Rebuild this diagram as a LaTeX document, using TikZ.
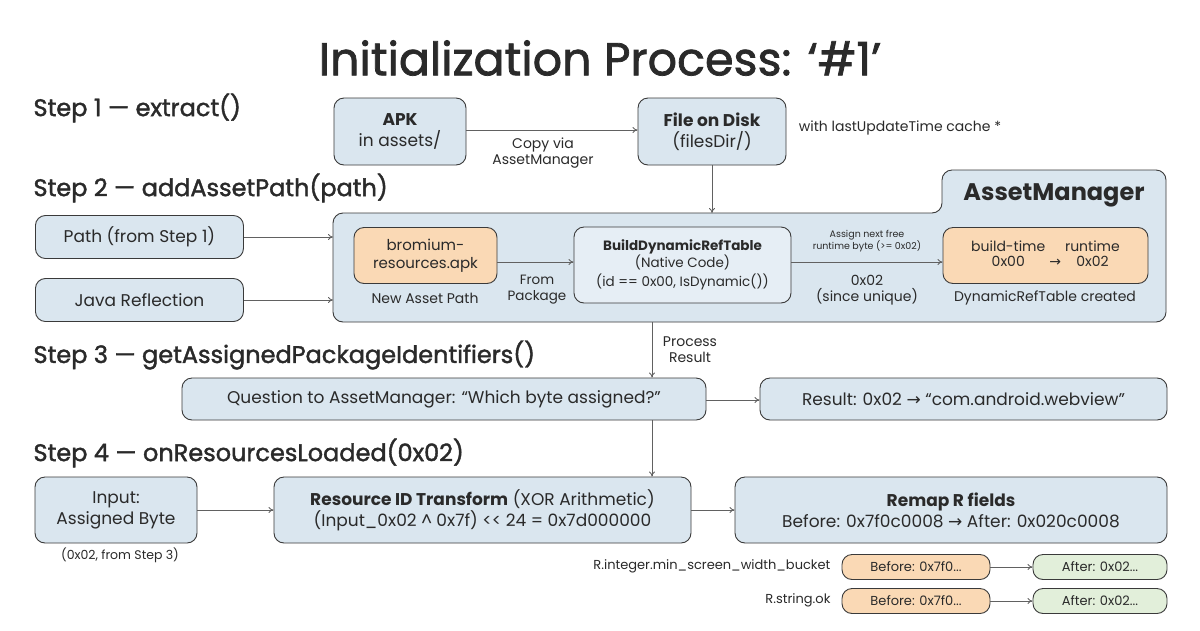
\documentclass[tikz,border=0pt]{standalone}
\usepackage{fontspec}
\setmainfont{Poppins}
\newfontfamily\heavy{Poppins}[FakeBold=1.6]
\newfontfamily\dv{DejaVu Sans}
\newcommand\rarr{{\dv →}}
\usetikzlibrary{arrows.meta}
\definecolor{bluef}{HTML}{DAE6EF}
\definecolor{bluel}{HTML}{E6EEF5}
\definecolor{orf}{HTML}{FAD9B5}
\definecolor{grf}{HTML}{E2EFDA}
\definecolor{edge}{HTML}{3A3A3A}
\definecolor{txt}{HTML}{2A2A2A}
\tikzset{
 box/.style={draw=edge,line width=0.9pt,rounded corners=10pt,fill=bluef,align=center,text=txt,font=\fontsize{17}{21}\selectfont,inner sep=0pt},
 obox/.style={box,fill=orf},
 gbox/.style={box,fill=grf},
 arr/.style={draw=edge!80,line width=0.8pt,-{To[length=5pt,width=6pt]}},
 lbl/.style={align=center,text=txt,font=\fontsize{14}{16}\selectfont},
 steplbl/.style={anchor=west,text=txt,font=\heavy\fontsize{24}{28}\selectfont},
}
\begin{document}
\begin{tikzpicture}[x=1pt,y=-1pt]
\useasboundingbox[fill=white] (0,0) rectangle (1200,630);
\node[text=txt,font=\heavy\fontsize{46}{52}\selectfont] (title) at (600,58) {Initialization Process: ‘\#1’};
\node[steplbl] (s1) at (30,108) {Step 1 — extract()};
\node[steplbl] (s2) at (30,188) {Step 2 — addAssetPath(path)};
\node[steplbl] (s3) at (30,355) {Step 3 — getAssignedPackageIdentifiers()};
\node[steplbl] (s4) at (30,453) {Step 4 — onResourcesLoaded(0x02)};
% step 1
\node[box,minimum width=132pt,minimum height=67pt] (apk) at (400,131.5) {\textbf{APK}\\in assets/};
\node[box,minimum width=148pt,minimum height=67pt] (disk) at (712,131.5) {\textbf{File on Disk}\\(filesDir/)};
\draw[arr] (apk.east|-0,130) -- (disk.west|-0,130);
\node[lbl] (copy) at (543,153) {Copy via\\AssetManager};
\node[lbl] (cache) at (900,128) {with lastUpdateTime cache *};
% asset manager
\draw[draw=edge,line width=0.9pt,fill=bluef,rounded corners=10pt] (333,213) -- (942,213) -- (942,170) -- (1166,170) -- (1166,322) -- (333,322) -- cycle;
\coordinate (amtop) at (712,213);
\coordinate (ambot) at (652,322);
\coordinate (amin1) at (333,237);
\coordinate (amin2) at (333,300);
\node[text=txt,font=\fontsize{24}{28}\selectfont\bfseries] (amlbl) at (1054,195) {AssetManager};
\draw[arr] (disk.south) -- (amtop);
\node[box,minimum width=208pt,minimum height=43pt,anchor=west] (path) at (35,237) {Path (from Step 1)};
\node[box,minimum width=208pt,minimum height=43pt,anchor=west] (java) at (35,300) {Java Reflection};
\draw[arr] (path) -- (amin1);
\draw[arr] (java) -- (amin2);
\node[obox,minimum width=143pt,minimum height=56pt,font=\fontsize{15}{18}\selectfont] (brom) at (425.5,255.5) {bromium-\\resources.apk};
\node[lbl] (nap) at (425,298) {New Asset Path};
\node[box,fill=bluel,minimum width=217pt,minimum height=76pt,font=\fontsize{13.5}{17}\selectfont] (bdr) at (682.5,265) {\textbf{BuildDynamicRefTable}\\(Native Code)\\[2pt](id == 0x00, IsDynamic())};
\draw[arr] (brom.east|-0,262) -- (bdr.west|-0,262);
\node[lbl,font=\fontsize{13.5}{16}\selectfont] (fp) at (537,290) {From\\Package};
\node[obox,minimum width=205pt,minimum height=56pt,font=\fontsize{14}{16}\selectfont] (bt) at (1045.5,255.5) {\begin{tabular}{@{}c@{\hspace{4pt}}c@{\hspace{4pt}}c@{}}build-time & & runtime\\[-1pt] 0x00 & \rarr & 0x02\end{tabular}};
\draw[arr] (bdr.east|-0,262) -- (bt.west|-0,262);
\node[align=center,text=txt,font=\fontsize{9.5}{11}\selectfont] (assign) at (867,241) {Assign next free\\runtime byte (>= 0x02)};
\node[lbl] (uniq) at (867,290) {0x02\\(since unique)};
\node[lbl] (drt) at (1045,298) {DynamicRefTable created};
% step 3
\node[box,minimum width=524pt,minimum height=42pt] (q) at (444,399) {Question to AssetManager: “Which byte assigned?”};
\node[box,minimum width=407pt,minimum height=42pt] (res) at (963.5,399) {Result: 0x02 \rarr{} “com.android.webview”};
\draw[arr] (ambot) -- (ambot|-q.north);
\node[lbl] (pr) at (690,350) {Process\\Result};
\draw[arr] (q.east|-0,400) -- (res.west|-0,400);
% step 4
\node[box,minimum width=162pt,minimum height=66pt] (inp) at (116,510) {Input:\\Assigned Byte};
\node[box,minimum width=417pt,minimum height=66pt] (tr) at (482.5,510) {\textbf{Resource ID Transform} (XOR Arithmetic)\\(Input\_0x02 \^{} 0x7f) {<}{<} 24 = 0x7d000000};
\node[box,minimum width=432pt,minimum height=66pt] (rm) at (951,510) {\textbf{Remap R fields}\\Before: 0x7f0c0008 \rarr{} After: 0x020c0008};
\draw[arr] (652,420) -- (tr.north-|652,0);
\draw[arr] (inp) -- (tr);
\draw[arr] (tr) -- (rm);
\node[lbl,font=\fontsize{12.5}{15}\selectfont] (fs3) at (120,555) {(0x02, from Step 3)};
\node[obox,minimum width=148pt,minimum height=25pt,font=\fontsize{13}{15}\selectfont] (b1) at (916,567) {Before: 0x7f0...};
\node[gbox,minimum width=134pt,minimum height=25pt,font=\fontsize{13}{15}\selectfont] (a1) at (1100,567) {After: 0x02...};
\node[obox,minimum width=148pt,minimum height=25pt,font=\fontsize{13}{15}\selectfont] (b2) at (916,601) {Before: 0x7f0...};
\node[gbox,minimum width=134pt,minimum height=25pt,font=\fontsize{13}{15}\selectfont] (a2) at (1100,601) {After: 0x02...};
\draw[arr] (b1) -- (a1);
\draw[arr] (b2) -- (a2);
\node[lbl,anchor=east,font=\fontsize{13}{15}\selectfont] (r1) at (834,566) {R.integer.min\_screen\_width\_bucket};
\node[lbl,anchor=east,font=\fontsize{13}{15}\selectfont] (r2) at (834,600) {R.string.ok};
\end{tikzpicture}
\end{document}
